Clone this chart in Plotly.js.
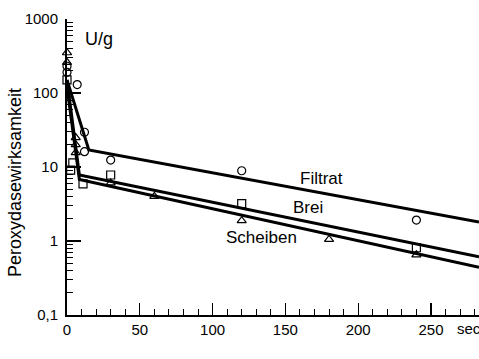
<!DOCTYPE html>
<html>
<head>
<meta charset="utf-8">
<script src="https://cdn.plot.ly/plotly-3.0.1.min.js"></script>
<style>html,body{margin:0;padding:0;background:#fff;}#chart{width:479px;height:359px;}</style>
</head>
<body>
<div id="chart"></div>
<script>
// Measured points (seconds, U/g)
const filtratX = [0, 0, 7, 12, 12, 30, 120, 240];
const filtratY = [230, 190, 130, 29.5, 16.1, 12.4, 8.9, 1.92];
const breiX = [0, 2.5, 4, 11, 30, 120, 240];
const breiY = [150, 9.1, 11.4, 5.9, 7.8, 3.2, 0.81];
const scheibenX = [0, 0, 6, 6, 6, 30, 60, 120, 180, 240];
const scheibenY = [350, 260, 25, 20, 15.6, 6.1, 4.0, 1.88, 1.05, 0.65];

// Fitted lines
const filtratLineX = [0, 15, 283];
const filtratLineY = [150, 17, 1.8];
const breiLineX = [0, 8.5, 283];
const breiLineY = [150, 7.8, 0.61];
const scheibenLineX = [0, 8.5, 283];
const scheibenLineY = [120, 6.8, 0.44];

// Axis ticks
const yTickVals = [0.1, 1, 10, 100, 1000];
const yTickText = ["0,1", "1", "10", "100", "1000"];
const xTickVals = [0, 50, 100, 150, 200, 250];
const xTickText = ["0", "50", "100", "150", "200", "250"];

// Labels
const seriesNames = ["Filtrat", "Brei", "Scheiben"];
const labelX = [174.5, 165.5, 133.6];
const labelY = [7.1, 2.88, 1.1];

const FONT = "Liberation Sans, Arial, sans-serif";
const lineStyle = {color: "#000", width: 3};
const mk = (sym) => ({symbol: sym, size: 8, color: "#000", line: {color: "#000", width: 1.2}});

const traces = [
  {x: filtratLineX, y: filtratLineY, mode: "lines", line: lineStyle, cliponaxis: false},
  {x: breiLineX, y: breiLineY, mode: "lines", line: lineStyle, cliponaxis: false},
  {x: scheibenLineX, y: scheibenLineY, mode: "lines", line: lineStyle, cliponaxis: false},
  {x: filtratX, y: filtratY, mode: "markers", marker: mk("circle-open"), cliponaxis: false},
  {x: breiX, y: breiY, mode: "markers", marker: mk("square-open"), cliponaxis: false},
  {x: scheibenX, y: scheibenY, mode: "markers", marker: mk("triangle-up-open"), cliponaxis: false}
];

const annotations = seriesNames.map((n, i) => ({
  text: n, x: labelX[i], y: Math.log10(labelY[i]), xref: "x", yref: "y",
  xanchor: "center", yanchor: "middle",
  showarrow: false, font: {family: FONT, size: 17, color: "#000"}
}));
annotations.push({text: "U/g", x: 0.078, y: 0.932, xref: "paper", yref: "paper", xanchor: "center", yanchor: "middle",
  showarrow: false, font: {family: FONT, size: 18, color: "#000"}});
annotations.push({text: "sec", x: 0.942, y: -0.047, xref: "paper", yref: "paper", xanchor: "left", yanchor: "middle",
  showarrow: false, font: {family: FONT, size: 15, color: "#000"}});
annotations.push({text: "Peroxydasewirksamkeit", x: -0.126, y: 0.446, xref: "paper", yref: "paper",
  xanchor: "center", yanchor: "middle",
  textangle: -90, showarrow: false, font: {family: FONT, size: 18, color: "#000"}});

const layout = {
  width: 479, height: 359,
  margin: {l: 67, r: 0, t: 19, b: 44},
  paper_bgcolor: "#fff", plot_bgcolor: "#fff",
  showlegend: false,
  xaxis: {
    range: [0, 283], showgrid: false, zeroline: false,
    showline: true, linecolor: "#000", linewidth: 2,
    ticks: "inside", ticklen: 12, tickwidth: 1.2, tickcolor: "#000",
    tickvals: xTickVals, ticktext: xTickText,
    tickfont: {family: FONT, size: 15, color: "#000"},
    minor: {dtick: 10, ticks: "inside", ticklen: 6, tickwidth: 1, tickcolor: "#000", showgrid: false}
  },
  yaxis: {
    type: "log", range: [-1, 3], showgrid: false, zeroline: false,
    showline: true, linecolor: "#000", linewidth: 2,
    ticks: "inside", ticklen: 14, tickwidth: 1.2, tickcolor: "#000",
    tickvals: yTickVals, ticktext: yTickText, ticklabelstandoff: 4,
    tickfont: {family: FONT, size: 15, color: "#000"},
    minor: {dtick: "D1", ticks: "inside", ticklen: 6, tickwidth: 1, tickcolor: "#000", showgrid: false}
  },
  annotations: annotations
};

Plotly.newPlot("chart", traces, layout, {staticPlot: true, displayModeBar: false});
</script>
</body>
</html>
